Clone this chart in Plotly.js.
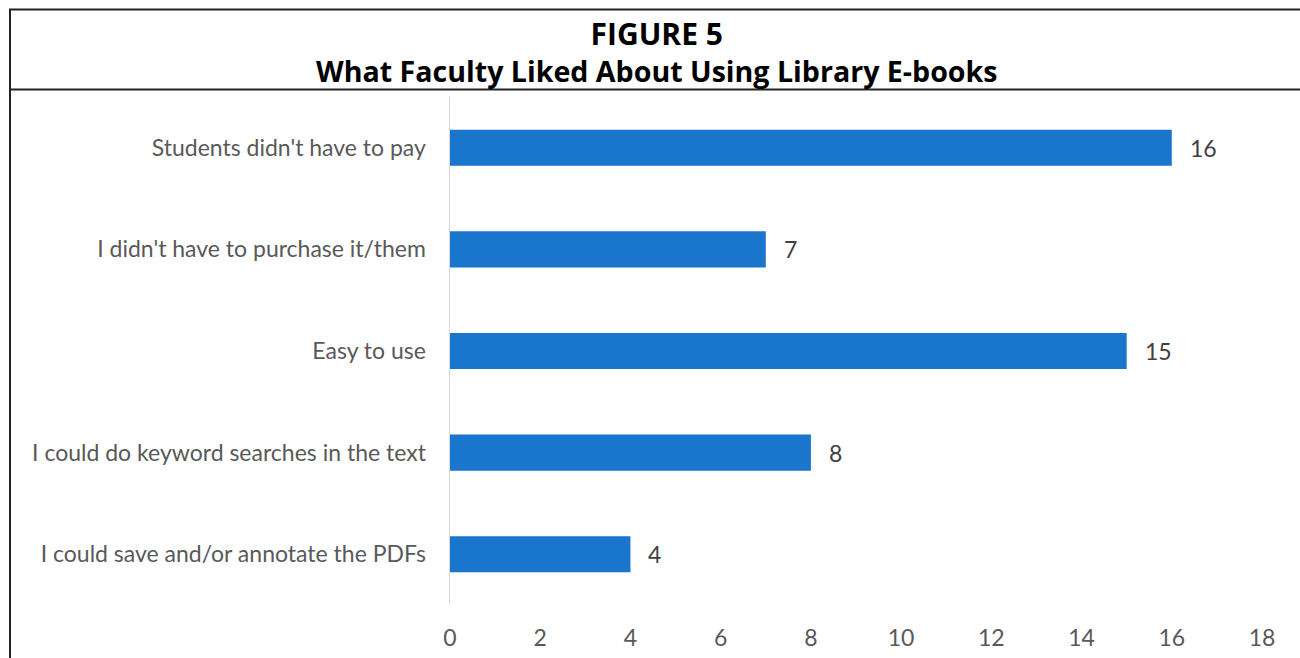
<!DOCTYPE html>
<html>
<head>
<meta charset="utf-8">
<script src="https://cdn.plot.ly/plotly-3.0.1.min.js"></script>
<style>html,body{margin:0;padding:0;background:#fff;}#chart{width:1300px;height:658px;}</style>
</head>
<body>
<div id="chart"></div>
<script>
const categories = [
  "Students didn't have to pay",
  "I didn't have to purchase it/them",
  "Easy to use",
  "I could do keyword searches in the text",
  "I could save and/or annotate the PDFs"
];
const values = [16, 7, 15, 8, 4];
const tickValues = [0, 2, 4, 6, 8, 10, 12, 14, 16, 18];
const titleLine1 = "FIGURE 5";
const titleLine2 = "What Faculty Liked About Using Library E-books";

const W = 1300, H = 658;
const mL = 450, mR = 38, mT = 97, mB = 53;
const pw = W - mL - mR, ph = H - mT - mB;
const px = x => (x - mL) / pw;
const py = y => (H - mB - y) / ph;
const FONT = 'Lato, sans-serif';

const trace = {
  type: 'bar',
  orientation: 'h',
  x: values,
  y: categories,
  marker: {color: '#1a75cd'},
  width: 0.355,
  hoverinfo: 'none'
};

const valueLabels = values.map((v, i) => ({
  xref: 'x', yref: 'y', x: v, y: categories[i],
  text: String(v), showarrow: false, xanchor: 'left', yanchor: 'middle',
  xshift: 16, font: {family: FONT, size: 23, color: '#404040'}
}));

const layout = {
  width: W, height: H,
  margin: {l: mL, r: mR, t: mT, b: mB, pad: 0},
  paper_bgcolor: '#fff', plot_bgcolor: '#fff',
  showlegend: false,
  font: {family: FONT, color: '#595959'},
  xaxis: {
    range: [0, 18],
    tickvals: tickValues,
    ticktext: tickValues.map(String),
    showgrid: false, zeroline: false, showline: false,
    ticks: '',
    tickfont: {family: FONT, size: 23, color: '#595959'},
    ticklabelstandoff: 17,
    fixedrange: true
  },
  yaxis: {
    autorange: 'reversed',
    categoryorder: 'array', categoryarray: categories,
    showgrid: false, zeroline: false,
    showline: true, linecolor: '#d9d9d9', linewidth: 1.5,
    ticks: '',
    tickfont: {family: FONT, size: 23, color: '#595959'},
    ticklabelstandoff: 18,
    fixedrange: true
  },
  shapes: [
    {type: 'line', xref: 'paper', yref: 'paper', x0: px(9), x1: px(1302), y0: py(9.5), y1: py(9.5), line: {color: '#222', width: 2}},
    {type: 'line', xref: 'paper', yref: 'paper', x0: px(9), x1: px(1302), y0: py(89.5), y1: py(89.5), line: {color: '#222', width: 2}},
    {type: 'line', xref: 'paper', yref: 'paper', x0: px(10), x1: px(10), y0: py(9), y1: py(662), line: {color: '#222', width: 2}}
  ],
  annotations: [
    {xref: 'paper', yref: 'paper', x: px(657), y: py(52),
     text: '<span style="font-size:30px"><b>' + titleLine1 + '</b></span><br><b>' + titleLine2 + '</b>',
     showarrow: false, align: 'center',
     xanchor: 'center', yanchor: 'middle', font: {family: 'Open Sans, sans-serif', size: 28.6, color: '#000'}}
  ].concat(valueLabels)
};

Plotly.newPlot('chart', [trace], layout, {displayModeBar: false, staticPlot: true});
</script>
</body>
</html>
